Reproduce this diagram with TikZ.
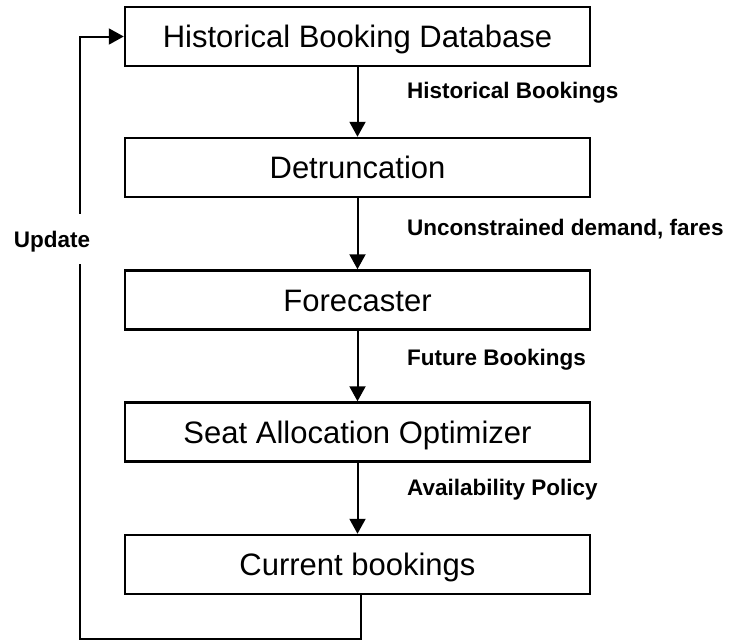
\documentclass[tikz,border=0pt]{standalone}
\usepackage{fontspec}
\setmainfont{Liberation Sans}
\usetikzlibrary{arrows.meta}

\tikzset{
  stage/.style={draw, line width=2.5pt, rectangle, minimum width=465pt,
    minimum height=59pt, inner sep=0pt, text height=22pt, text depth=0pt,
    font=\fontsize{31}{37}\selectfont},
  flowlabel/.style={inner sep=0pt, anchor=west, text height=16pt, text depth=0pt,
    font=\fontsize{22.5}{27}\selectfont\bfseries},
  flow/.style={line width=2pt, -{Triangle[length=15pt,width=16pt]}},
}

\begin{document}
\begin{tikzpicture}[x=1pt,y=-1pt]
  \useasboundingbox[fill=white] (0,0) rectangle (738,641);

  % processing stages
  \node[stage] (hist)  at (357.5,36.5)  {Historical Booking Database};
  \node[stage] (detr)  at (357.5,167.5) {Detruncation};
  \node[stage] (fcst)  at (357.5,300)   {Forecaster};
  \node[stage] (opt)   at (357.5,432)   {Seat Allocation Optimizer};
  \node[stage] (curr)  at (357.5,564.5) {Current bookings};

  % data passed between stages
  \draw[flow] (hist) -- (detr);
  \draw[flow] (detr) -- (fcst);
  \draw[flow] (fcst) -- (opt);
  \draw[flow] (opt) -- (curr);

  \node[flowlabel] (l1) at (407,90)  {Historical Bookings};
  \node[flowlabel] (l2) at (407,227) {Unconstrained demand, fares};
  \node[flowlabel] (l3) at (407,357) {Future Bookings};
  \node[flowlabel] (l4) at (407,487) {Availability Policy};

  % feedback loop back to the database
  \coordinate (loopcorner) at (80,639);
  \draw[flow] ([xshift=3pt]curr.south) |- (loopcorner) |- (hist.west);
  \node[flowlabel, anchor=center, fill=white, minimum height=50pt,
        inner xsep=2pt] (upd) at (52,239) {Update};
\end{tikzpicture}
\end{document}
